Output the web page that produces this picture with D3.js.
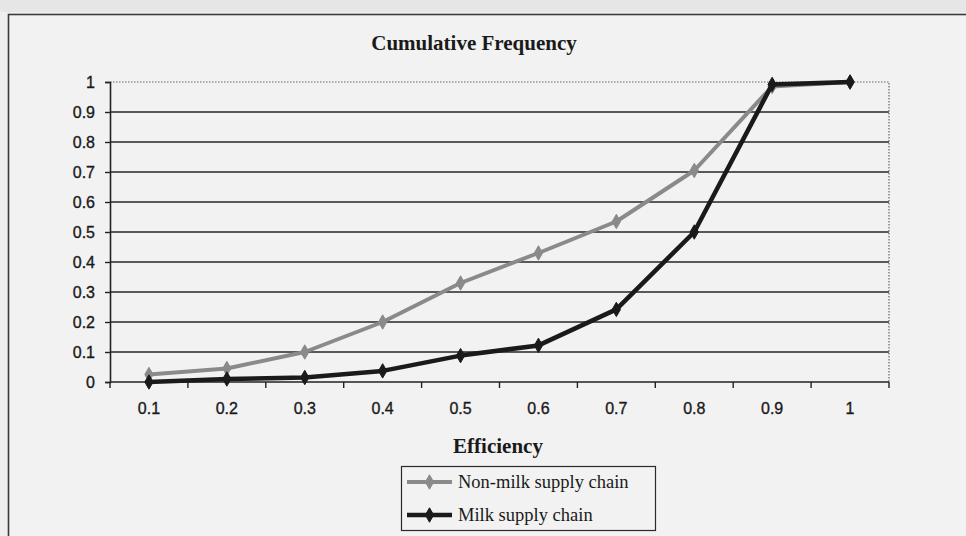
<!DOCTYPE html>
<html>
<head>
<meta charset="utf-8">
<script src="https://cdn.jsdelivr.net/npm/d3@7"></script>
<style>
  body { margin: 0; background: #efefef; }
  svg { display: block; }
</style>
</head>
<body>
<div id="chart"></div>
<script>
// data
const categories = ["0.1", "0.2", "0.3", "0.4", "0.5", "0.6", "0.7", "0.8", "0.9", "1"];
const nonMilk = [0.025, 0.045, 0.1, 0.2, 0.33, 0.43, 0.535, 0.705, 0.985, 1];
const milk = [0, 0.01, 0.015, 0.037, 0.088, 0.122, 0.242, 0.5, 0.992, 1];
const yTicks = [0, 0.1, 0.2, 0.3, 0.4, 0.5, 0.6, 0.7, 0.8, 0.9, 1];
const seriesNames = ["Non-milk supply chain", "Milk supply chain"];

const width = 966, height = 536;
const margin = {top: 82, right: 77, bottom: 154, left: 110};
const innerW = width - margin.left - margin.right;
const innerH = height - margin.top - margin.bottom;

const svg = d3.select("#chart").append("svg")
  .attr("width", width)
  .attr("height", height);

// page background + outer chart frame
svg.append("rect").attr("width", width).attr("height", height).attr("fill", "#efefef");
svg.append("rect").attr("x", 0).attr("y", 0).attr("width", width).attr("height", 12).attr("fill", "#e6e6e6");
svg.append("rect")
  .attr("x", 8.5).attr("y", 14.5)
  .attr("width", width + 20).attr("height", height + 20)
  .attr("fill", "#f2f2f2")
  .attr("stroke", "#3a3a3a").attr("stroke-width", 1.6);

const x = d3.scaleBand().domain(categories).range([0, innerW]).padding(0);
const y = d3.scaleLinear().domain([0, 1]).range([innerH, 0]);
const cx = d => x(d) + x.bandwidth() / 2;

const g = svg.append("g").attr("transform", `translate(${margin.left},${margin.top})`);

// horizontal gridlines
g.append("g")
  .selectAll("line")
  .data(yTicks.filter(t => t > 0 && t < 1))
  .join("line")
  .attr("x1", 0).attr("x2", innerW)
  .attr("y1", d => y(d)).attr("y2", d => y(d))
  .attr("stroke", "#262626").attr("stroke-width", 1.4);

// dotted plot-area border (top and right)
g.append("path")
  .attr("d", `M0,${y(1)}H${innerW}V${innerH}`)
  .attr("fill", "none")
  .attr("stroke", "#666").attr("stroke-width", 1.2)
  .attr("stroke-dasharray", "1.5,1.5");

const sans = "'Liberation Sans', Arial, sans-serif";
const serif = "'Liberation Serif', 'Times New Roman', serif";

// y axis
const yAxis = g.append("g")
  .call(d3.axisLeft(y).tickValues(yTicks).tickSize(5).tickPadding(10).tickFormat(d3.format("")));
yAxis.select(".domain").attr("stroke", "#222").attr("stroke-width", 1.6);
yAxis.selectAll(".tick line").attr("stroke", "#222").attr("stroke-width", 1.4);
yAxis.selectAll("text")
  .attr("font-family", sans)
  .attr("font-size", 16).attr("fill", "#1a1a1a")
  .attr("stroke", "#1a1a1a").attr("stroke-width", 0.35);

// x axis: ticks on band boundaries, labels at band centers
const xAxis = g.append("g").attr("transform", `translate(0,${innerH})`);
xAxis.append("line").attr("x1", 0).attr("x2", innerW)
  .attr("stroke", "#222").attr("stroke-width", 1.6);
xAxis.selectAll(".bt")
  .data(categories.concat(["end"]))
  .join("line")
  .attr("class", "bt")
  .attr("x1", (d, i) => i * x.bandwidth()).attr("x2", (d, i) => i * x.bandwidth())
  .attr("y1", 0).attr("y2", 6)
  .attr("stroke", "#222").attr("stroke-width", 1.4);
xAxis.selectAll("text")
  .data(categories)
  .join("text")
  .attr("x", d => cx(d)).attr("y", 32)
  .attr("text-anchor", "middle")
  .attr("font-family", sans)
  .attr("font-size", 16).attr("fill", "#1a1a1a")
  .attr("stroke", "#1a1a1a").attr("stroke-width", 0.35)
  .text(d => d);

const line = d3.line()
  .x((d, i) => cx(categories[i]))
  .y(d => y(d));

const diamond = d3.symbol().type(d3.symbolDiamond).size(60);

function drawSeries(values, color, w) {
  g.append("path")
    .datum(values)
    .attr("fill", "none")
    .attr("stroke", color).attr("stroke-width", w)
    .attr("stroke-linejoin", "round")
    .attr("d", line);
  g.append("g")
    .selectAll("path")
    .data(values)
    .join("path")
    .attr("transform", (d, i) => `translate(${cx(categories[i])},${y(d)})`)
    .attr("d", diamond)
    .attr("fill", color).attr("stroke", color).attr("stroke-width", 1);
}

drawSeries(nonMilk, "#8a8a8a", 4);
drawSeries(milk, "#1a1a1a", 4.5);

// title
svg.append("text")
  .attr("x", 474).attr("y", 50)
  .attr("text-anchor", "middle")
  .attr("font-family", serif)
  .attr("font-weight", "bold").attr("font-size", 21).attr("fill", "#1a1a1a")
  .text("Cumulative Frequency");

// x axis title
svg.append("text")
  .attr("x", 498).attr("y", 453)
  .attr("text-anchor", "middle")
  .attr("font-family", serif)
  .attr("font-weight", "bold").attr("font-size", 21).attr("fill", "#1a1a1a")
  .text("Efficiency");

// legend
const legend = svg.append("g").attr("transform", "translate(401,466)");
legend.append("rect")
  .attr("x", 0.5).attr("y", 0.5).attr("width", 254).attr("height", 64)
  .attr("fill", "none").attr("stroke", "#2a2a2a").attr("stroke-width", 1.2);

const legendRows = [
  {name: seriesNames[0], color: "#8a8a8a", w: 4},
  {name: seriesNames[1], color: "#1a1a1a", w: 4.5}
];
legendRows.forEach((r, i) => {
  const yy = 16 + i * 33;
  legend.append("line")
    .attr("x1", 6).attr("x2", 51).attr("y1", yy).attr("y2", yy)
    .attr("stroke", r.color).attr("stroke-width", r.w);
  legend.append("path")
    .attr("transform", `translate(28.5,${yy})`)
    .attr("d", diamond)
    .attr("fill", r.color).attr("stroke", r.color);
  legend.append("text")
    .attr("x", 57).attr("y", yy + 6)
    .attr("font-family", serif)
    .attr("font-size", 18.5).attr("fill", "#1a1a1a")
    .text(r.name);
});
</script>
</body>
</html>
